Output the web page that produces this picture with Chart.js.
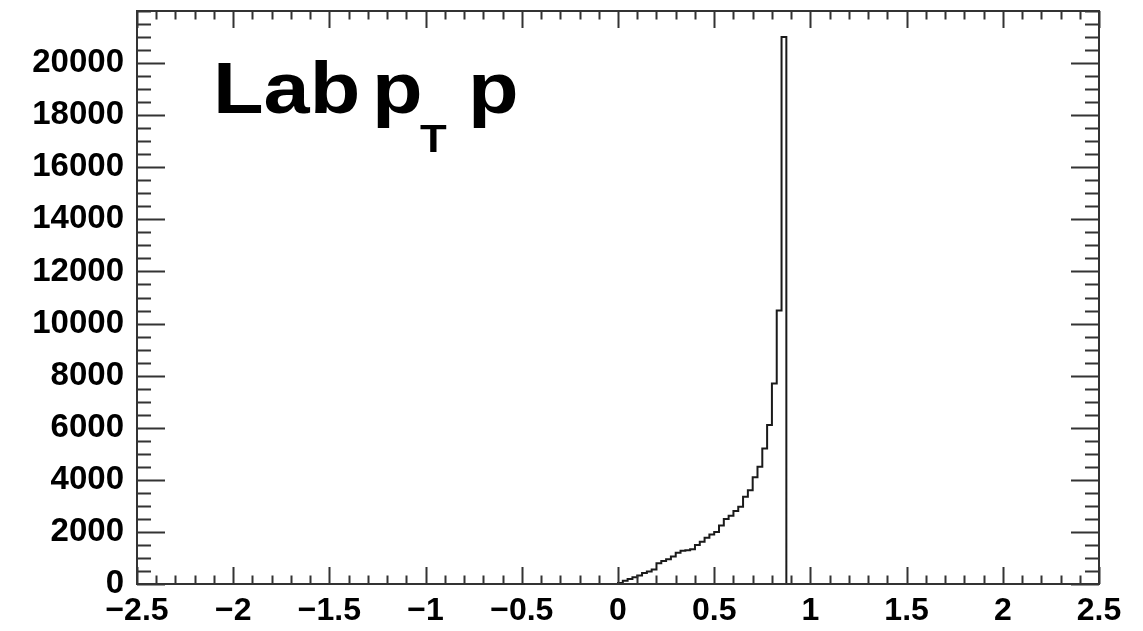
<!DOCTYPE html>
<html>
<head>
<meta charset="utf-8">
<script src="https://cdn.jsdelivr.net/npm/chart.js@4.4.1/dist/chart.umd.min.js"></script>
<style>
    html, body { margin: 0; padding: 0; background: #fff; }
    #wrap { width: 1143px; height: 631px; }
</style>
</head>
<body>
<div id="wrap"><canvas id="hist" width="1143" height="631"></canvas></div>
<script>
// Histogram: Lab pT of proton
const xRange = [-2.5, 2.5];
const yRange = [0, 22000];
const xMajorTicks = [-2.5, -2, -1.5, -1, -0.5, 0, 0.5, 1, 1.5, 2, 2.5];
const yMajorTicks = [0, 2000, 4000, 6000, 8000, 10000, 12000, 14000, 16000, 18000, 20000];
const xMinorStep = 0.1;
const yMinorStep = 500;

// bins start at 0, width 0.025
const binLow = 0;
const binWidth = 0.025;
const counts = [
    40, 120, 190, 260, 330, 420, 480, 560, 800, 880,
    950, 1060, 1200, 1280, 1300, 1330, 1500, 1620, 1780, 1900,
    2000, 2250, 2500, 2620, 2800, 2970, 3350, 3600, 4100, 4500,
    5200, 6100, 7700, 10500, 21000
];

// title pieces: text, x, baseline y, font size
const titlePieces = [
    ['Lab', 213, 113, 72],
    ['p', 372, 113, 72],
    ['T', 420, 152, 38],
    ['p', 468, 113, 72]
];

const FONT = '"Liberation Sans", Arial, Helvetica, sans-serif';
const INK = '#1a1a1a';

function fmtTick(v) {
    return v < 0 ? '\u2212' + Math.abs(v) : String(v);
}

// histogram outline as step points (low edge, content)
function histPoints() {
    const pts = [{ x: xRange[0], y: 0 }];
    counts.forEach((c, i) => pts.push({ x: binLow + i * binWidth, y: c }));
    pts.push({ x: binLow + counts.length * binWidth, y: 0 });
    pts.push({ x: xRange[1], y: 0 });
    return pts;
}

// ROOT style frame with inward ticks on all four sides
const frameTicks = {
    id: 'frameTicks',
    afterDraw(chart) {
        const ctx = chart.ctx;
        const a = chart.chartArea;
        const xs = chart.scales.x, ys = chart.scales.y;
        ctx.save();
        ctx.strokeStyle = '#333';
        ctx.lineWidth = 2;

        // x ticks
        const nx = Math.round((xRange[1] - xRange[0]) / xMinorStep);
        for (let i = 0; i <= nx; i++) {
            const v = xRange[0] + i * xMinorStep;
            const px = Math.round(xs.getPixelForValue(v)) + 0.5;
            const major = xMajorTicks.some(t => Math.abs(t - v) < 1e-6);
            const len = major ? 17 : 8.5;
            ctx.beginPath();
            ctx.moveTo(px, a.bottom); ctx.lineTo(px, a.bottom - len);
            ctx.moveTo(px, a.top); ctx.lineTo(px, a.top + len);
            ctx.stroke();
        }
        // y ticks
        const ny = Math.round((yRange[1] - yRange[0]) / yMinorStep);
        for (let i = 0; i <= ny; i++) {
            const v = yRange[0] + i * yMinorStep;
            const py = Math.round(ys.getPixelForValue(v)) + 0.5;
            const major = yMajorTicks.includes(v);
            const len = major ? 28 : 14;
            ctx.beginPath();
            ctx.moveTo(a.left, py); ctx.lineTo(a.left + len, py);
            ctx.moveTo(a.right, py); ctx.lineTo(a.right - len, py);
            ctx.stroke();
        }
        ctx.strokeRect(a.left, a.top, a.right - a.left, a.bottom - a.top);

        // title text
        ctx.fillStyle = '#000';
        ctx.textBaseline = 'alphabetic';
        titlePieces.forEach(([txt, x, y, size]) => {
            ctx.save();
            ctx.translate(x, y);
            ctx.scale(1.15, 1);
            ctx.font = 'bold ' + size + 'px ' + FONT;
            ctx.fillText(txt, 0, 0);
            ctx.restore();
        });
        ctx.restore();
    }
};

new Chart(document.getElementById('hist'), {
    type: 'line',
    data: {
        datasets: [{
            data: histPoints(),
            stepped: 'before',
            borderColor: INK,
            borderWidth: 2,
            pointRadius: 0,
            fill: false,
            clip: false
        }]
    },
    options: {
        responsive: false,
        animation: false,
        devicePixelRatio: 1,
        layout: { padding: { top: 11, right: 44, left: 0, bottom: 0 } },
        plugins: { legend: { display: false }, tooltip: { enabled: false } },
        scales: {
            x: {
                type: 'linear',
                min: xRange[0],
                max: xRange[1],
                afterBuildTicks: s => { s.ticks = xMajorTicks.map(v => ({ value: v })); },
                afterFit: s => { s.height = 47; s.paddingLeft = 0; s.paddingRight = 0; },
                grid: { display: false, drawTicks: false },
                border: { display: false },
                ticks: {
                    autoSkip: false,
                    maxRotation: 0,
                    padding: 8,
                    color: '#000',
                    font: { family: FONT, size: 32, weight: 'bold' },
                    callback: v => fmtTick(v)
                }
            },
            y: {
                type: 'linear',
                min: yRange[0],
                max: yRange[1],
                afterBuildTicks: s => { s.ticks = yMajorTicks.map(v => ({ value: v })); },
                afterFit: s => { s.width = 137; s.paddingTop = 0; s.paddingBottom = 0; },
                grid: { display: false, drawTicks: false },
                border: { display: false },
                ticks: {
                    autoSkip: false,
                    padding: 13,
                    color: '#000',
                    font: { family: FONT, size: 33, weight: 'bold' },
                    callback: v => fmtTick(v)
                }
            }
        }
    },
    plugins: [frameTicks]
});
</script>
</body>
</html>
